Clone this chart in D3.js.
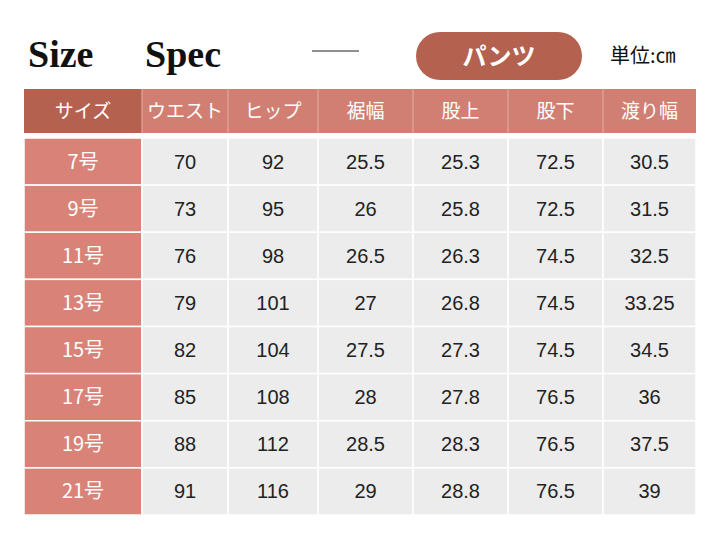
<!DOCTYPE html><html><head><meta charset="utf-8"><script src="https://cdn.jsdelivr.net/npm/d3@7"></script>
<style>body{margin:0;background:#fff}</style></head><body><svg id="c" width="720" height="540"></svg>
<script>
const headers=["サイズ","ウエスト","ヒップ","裾幅","股上","股下","渡り幅"];
const sizes=["7号","9号","11号","13号","15号","17号","19号","21号"];
const waist=["70","73","76","79","82","85","88","91"];
const hip=["92","95","98","101","104","108","112","116"];
const hem=["25.5","26","26.5","27","27.5","28","28.5","29"];
const rise=["25.3","25.8","26.3","26.8","27.3","27.8","28.3","28.8"];
const inseam=["72.5","72.5","74.5","74.5","74.5","76.5","76.5","76.5"];
const thigh=["30.5","31.5","32.5","33.25","34.5","36","37.5","39"];
const cols=[sizes,waist,hip,hem,rise,inseam,thigh];
const edges=[24,142,228,318,413,508,603,696];
const svg=d3.select("#c");
const font="'Noto Sans CJK JP',sans-serif";
svg.append("text").attr("x",28).attr("y",67).attr("font-family","'Liberation Serif',serif").attr("font-weight","bold").attr("font-size",38).attr("fill","#111").text("Size");
svg.append("text").attr("x",145).attr("y",67).attr("font-family","'Liberation Serif',serif").attr("font-weight","bold").attr("font-size",38).attr("fill","#111").text("Spec");
svg.append("line").attr("x1",312).attr("x2",359).attr("y1",51).attr("y2",51).attr("stroke","#222").attr("stroke-width",1.2);
svg.append("rect").attr("x",416).attr("y",32).attr("width",166).attr("height",48).attr("rx",24).attr("fill","#b5614f");
svg.append("text").attr("x",499).attr("y",65).attr("text-anchor","middle").attr("font-family",font).attr("font-weight","bold").attr("font-size",24).attr("fill","#fff").text("パンツ");
svg.append("text").attr("x",610).attr("y",63).attr("font-family",font).attr("font-size",20).attr("fill","#111").text("単位:㎝");
const x=i=>edges[i], w=i=>edges[i+1]-edges[i];
const hy=89,hh=44;
headers.forEach((h,i)=>{
 svg.append("rect").attr("x",x(i)).attr("y",hy).attr("width",w(i)).attr("height",hh).attr("fill",i==0?"#b5614f":"#d07f72");
 if(i>0)svg.append("line").attr("x1",x(i)).attr("x2",x(i)).attr("y1",hy).attr("y2",hy+hh).attr("stroke","#e8b0a6").attr("stroke-width",1);
 svg.append("text").attr("x",x(i)+w(i)/2).attr("y",hy+hh/2+7).attr("text-anchor","middle").attr("font-family",font).attr("font-size",19).attr("fill","#fff").text(h);
});
const y=d3.scaleBand().domain(d3.range(8)).range([138,515]);
cols.forEach((col,i)=>{col.forEach((v,r)=>{
 svg.append("rect").attr("x",x(i)).attr("y",y(r)).attr("width",w(i)).attr("height",y.bandwidth()).attr("fill",i==0?"#d98378":"#ececec").attr("stroke","#fff").attr("stroke-width",1.5);
 svg.append("text").attr("x",x(i)+w(i)/2).attr("y",y(r)+y.bandwidth()/2+7).attr("text-anchor","middle").attr("font-family",i==0?font:"'Liberation Sans',Arial,sans-serif").attr("font-size",20).attr("fill",i==0?"#fff":"#222").text(v);
});});
</script></body></html>
